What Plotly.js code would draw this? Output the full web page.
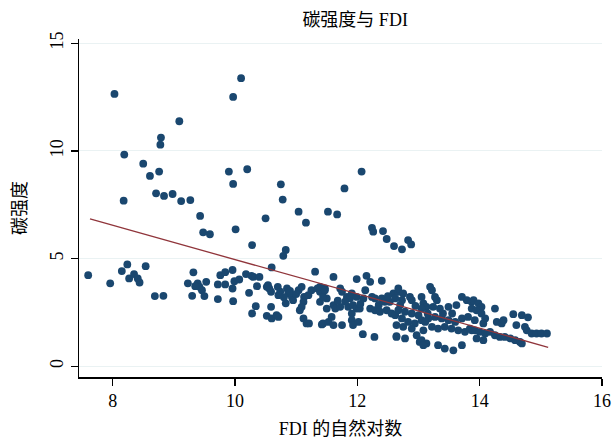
<!DOCTYPE html>
<html>
<head>
<meta charset="utf-8">
<script src="https://cdn.plot.ly/plotly-3.0.1.min.js"></script>
<style>html,body{margin:0;padding:0;background:#fff;}#chart{width:614px;height:439px;}</style>
</head>
<body>
<div id="chart"></div>
<script>
// FDI (log) and carbon intensity
const xUpper = [8.03,8.19,8.18,8.50,8.61,8.76,8.71,8.84,8.98,9.12,9.27,8.79,8.78,9.09,9.43,9.97,10.10,9.90,9.97,10.20,10.50,10.01,10.28,10.75,10.78,11.04,11.16,10.83,10.79,11.52,11.67,11.79,12.07,12.24,12.26,12.42,12.48,12.60,12.73,12.83,12.88,9.48,9.59];
const yUpper = [12.65,9.83,7.69,9.41,8.84,9.04,8.03,7.91,8.00,7.67,7.72,10.62,10.29,11.38,6.98,12.51,13.38,9.04,8.47,9.15,6.87,6.36,5.63,8.45,7.74,7.18,6.67,5.40,5.13,7.18,7.05,8.26,9.04,6.43,6.25,6.28,5.91,5.58,5.43,5.86,5.66,6.22,6.13];

const xLeft = [7.60,7.96,8.15,8.24,8.27,8.35,8.41,8.44,8.54,8.69,8.83,9.23,9.32,9.30,9.39,9.42,9.46,9.50,9.53,9.72,9.72,9.76,9.84,9.84,9.96,9.99,9.96,9.97,10.07,10.18,10.23,10.30,10.34,10.28,10.36,10.40,10.52,10.52,9.35];
const yLeft = [4.23,3.85,4.42,4.73,4.08,4.28,4.08,3.89,4.65,3.26,3.27,3.85,4.36,3.27,3.85,3.69,3.53,3.26,3.92,3.80,3.12,4.23,4.37,3.80,4.47,3.95,3.61,3.02,4.03,4.28,3.41,4.15,2.79,2.45,3.72,4.15,2.34,3.69,3.72];

const xMid1 = [10.60,11.31,10.27,10.54,10.56,10.59,10.70,10.74,10.71,10.85,10.87,10.93,10.95,11.04,11.09,11.13,11.12,11.25,11.35,11.39,11.47,10.83,10.59,10.60,10.68,10.71,11.06,11.09,11.12,11.17,11.21,11.39,11.42,10.90,11.00,11.20,10.80];
const yMid1 = [4.59,4.39,4.20,3.77,3.61,3.46,3.69,3.46,3.30,3.61,3.38,3.22,3.07,3.53,3.69,3.22,2.99,3.53,3.61,3.46,3.61,2.92,2.76,2.22,2.37,2.29,2.60,2.76,2.22,1.99,1.99,2.99,1.94,3.50,3.35,3.30,3.20];

const xMid2 = [11.61,11.99,12.15,12.21,12.40,11.39,11.47,11.50,11.44,11.72,11.75,11.83,11.88,11.91,11.99,12.10,12.13,12.24,12.29,12.40,12.45,12.53,12.59,12.67,12.70,11.61,11.64,11.72,11.50,11.85,11.93,11.99,11.91,12.04,12.21,12.29,12.37,12.48,12.56,12.62,11.44,11.53,11.61,11.75,11.58,11.91,11.93,12.02,12.09,12.28,12.64,11.80,12.05,12.35,12.50,11.68];
const yMid2 = [4.15,4.05,4.20,3.92,3.97,3.69,3.53,3.15,3.22,3.61,3.46,3.22,3.15,3.38,3.22,3.15,3.53,3.22,3.15,3.15,2.99,2.99,3.38,3.46,2.84,2.84,2.68,2.76,2.68,2.76,2.84,2.68,2.45,2.68,2.68,2.60,2.53,2.60,2.45,2.37,1.99,2.06,1.91,1.91,2.29,2.14,1.91,2.06,1.49,1.36,1.40,3.00,2.90,2.85,3.25,3.05];

const xMid3 = [13.19,13.22,13.27,13.30,12.67,12.75,12.86,12.89,12.73,12.62,13.05,13.08,13.13,13.24,13.35,13.49,13.62,13.71,13.79,13.87,13.87,12.67,12.78,12.89,13.00,12.73,12.83,12.94,13.05,13.16,13.27,13.38,13.49,13.60,13.71,13.81,13.92,13.22,13.32,13.43,13.54,13.65,13.76,13.87,12.64,12.75,12.89,13.08,12.64,12.78,12.97,13.02,13.13,13.32,13.43,13.57,13.71,13.05,13.11,13.05,13.08,12.95,13.15,13.40,13.55];
const yMid3 = [3.69,3.53,3.22,3.07,3.61,3.38,3.22,3.07,3.07,3.15,3.22,2.92,2.76,2.76,2.68,2.76,2.84,3.22,3.07,2.99,2.68,2.60,2.53,2.45,2.37,2.22,2.06,1.99,2.14,2.22,2.29,2.22,2.14,2.06,2.22,2.29,2.14,1.83,1.75,1.83,1.75,1.67,1.60,1.67,1.91,1.83,1.75,1.67,1.36,1.29,1.44,1.13,1.06,0.98,0.82,0.74,0.98,2.68,2.06,1.21,0.98,2.80,2.45,2.45,2.45];

const xRight = [14.25,14.55,14.69,14.79,13.90,13.98,14.03,13.95,14.03,14.09,14.06,14.28,14.36,14.39,14.60,14.74,14.77,14.85,14.93,15.01,15.10,13.84,13.92,14.00,14.09,14.17,14.25,14.33,14.41,14.50,14.58,14.66,14.69,13.95,14.06];
const yRight = [2.68,2.42,2.37,2.27,3.07,2.92,2.76,2.60,2.45,2.22,1.99,2.06,1.99,2.14,1.91,1.83,1.67,1.52,1.52,1.52,1.52,1.75,1.67,1.60,1.52,1.60,1.44,1.36,1.36,1.29,1.21,1.13,1.06,1.29,1.21];

// fitted line end points
const fitX = [7.63, 15.12];
const fitY = [6.84, 0.88];

const xTicks = [8, 10, 12, 14, 16];
const yTicks = [0, 5, 10, 15];

const fdi = [].concat(xUpper, xLeft, xMid1, xMid2, xMid3, xRight);
const ci = [].concat(yUpper, yLeft, yMid1, yMid2, yMid3, yRight);

const FONT = "'Liberation Serif', 'Times New Roman', 'Noto Sans CJK SC', serif";

const traces = [
  {
    x: fdi, y: ci, type: 'scatter', mode: 'markers',
    marker: {color: '#1a476f', size: 7.8, line: {width: 0}},
    hoverinfo: 'skip', showlegend: false
  },
  {
    x: fitX, y: fitY, type: 'scatter', mode: 'lines',
    line: {color: '#90353b', width: 1.3},
    hoverinfo: 'skip', showlegend: false
  }
];

const layout = {
  width: 614, height: 439,
  margin: {l: 79, r: 12, t: 39, b: 62},
  paper_bgcolor: '#ffffff', plot_bgcolor: '#ffffff',
  font: {family: FONT, color: '#000', size: 17},
  showlegend: false,
  xaxis: {
    range: [7.45, 16.0],
    tickvals: xTicks, ticktext: xTicks.map(String),
    ticks: 'outside', ticklen: 7, tickwidth: 1.3, tickcolor: '#000',
    showline: true, linecolor: '#000', linewidth: 1.5,
    showgrid: false, zeroline: false,
    tickfont: {family: FONT, size: 18},
    title: {text: 'FDI 的自然对数', font: {family: FONT, size: 18}, standoff: 12}
  },
  yaxis: {
    range: [-0.5, 15.2],
    tickvals: yTicks, ticktext: yTicks.map(String),
    tickangle: -90,
    ticks: 'outside', ticklen: 7, tickwidth: 1.3, tickcolor: '#000',
    showline: true, linecolor: '#000', linewidth: 1.5,
    showgrid: true, gridcolor: '#eaf2f3', gridwidth: 1,
    zeroline: false,
    tickfont: {family: FONT, size: 18},
    title: {text: '碳强度', font: {family: FONT, size: 18}, standoff: 16}
  },
  title: {
    text: '碳强度与 FDI',
    font: {family: FONT, size: 18},
    x: 0.528, xref: 'paper', xanchor: 'center',
    y: 0.955, yref: 'container', yanchor: 'middle'
  }
};

Plotly.newPlot('chart', traces, layout, {staticPlot: true, displayModeBar: false});
</script>
</body>
</html>
